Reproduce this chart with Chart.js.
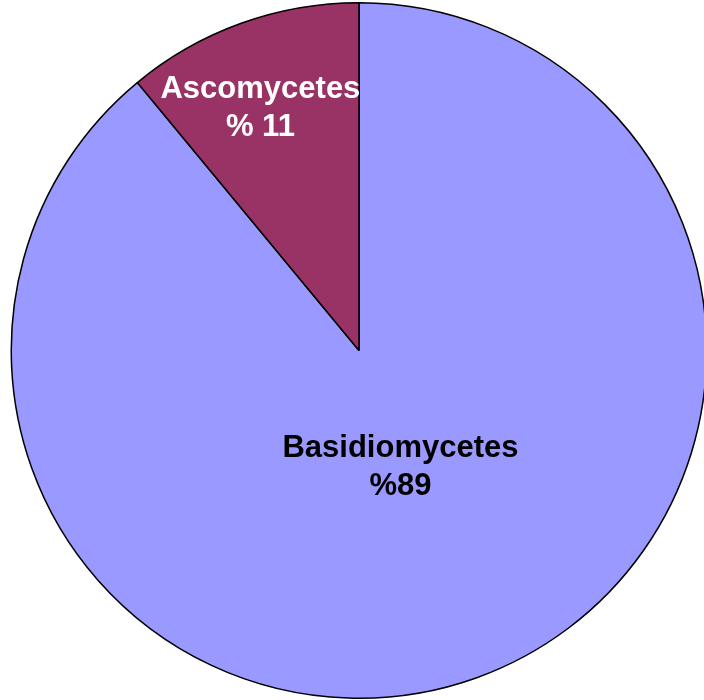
<!DOCTYPE html>
<html>
<head>
<meta charset="utf-8">
<script src="https://cdn.jsdelivr.net/npm/chart.js@4"></script>
<style>
  html, body { margin: 0; padding: 0; background: #fff; overflow: hidden; }
  #wrap { width: 718px; height: 700px; }
</style>
</head>
<body>
<div id="wrap"><canvas id="pie"></canvas></div>
<script>
const groups = ['Basidiomycetes', 'Ascomycetes'];
const shares = [89, 11];
const pctPrefix = ['%', '% '];
const sliceColors = ['#9999FF', '#993366'];
const labelColors = ['#000000', '#ffffff'];

// text inside each slice, placed along the slice's middle angle
const sliceLabels = {
  id: 'sliceLabels',
  afterDatasetsDraw(chart, args, opts) {
    const ctx = chart.ctx;
    const arcs = chart.getDatasetMeta(0).data;
    ctx.save();
    ctx.font = 'bold 31px "Liberation Sans", Arial, sans-serif';
    ctx.textAlign = 'center';
    ctx.textBaseline = 'alphabetic';
    arcs.forEach((arc, i) => {
      const mid = (arc.startAngle + arc.endAngle) / 2;
      const r = arc.outerRadius * opts.dist[i];
      const cx = arc.x + Math.cos(mid) * r + opts.nudge[i][0];
      const cy = arc.y + Math.sin(mid) * r + opts.nudge[i][1];
      ctx.fillStyle = labelColors[i];
      ctx.fillText(groups[i], cx, cy - 9);
      ctx.fillText(pctPrefix[i] + shares[i], cx, cy + 29);
    });
    ctx.restore();
  }
};

new Chart(document.getElementById('pie'), {
  type: 'pie',
  data: {
    labels: groups,
    datasets: [{
      data: shares,
      backgroundColor: sliceColors,
      borderColor: '#000000',
      borderWidth: 1.5
    }]
  },
  options: {
    responsive: true,
    maintainAspectRatio: false,
    animation: false,
    layout: { padding: { top: 2, bottom: 1, left: 10, right: 10 } },
    plugins: {
      legend: { display: false },
      tooltip: { enabled: false },
      sliceLabels: { dist: [0.352, 0.752], nudge: [[0, 0], [-10, 3]] }
    }
  },
  plugins: [sliceLabels]
});
</script>
</body>
</html>
